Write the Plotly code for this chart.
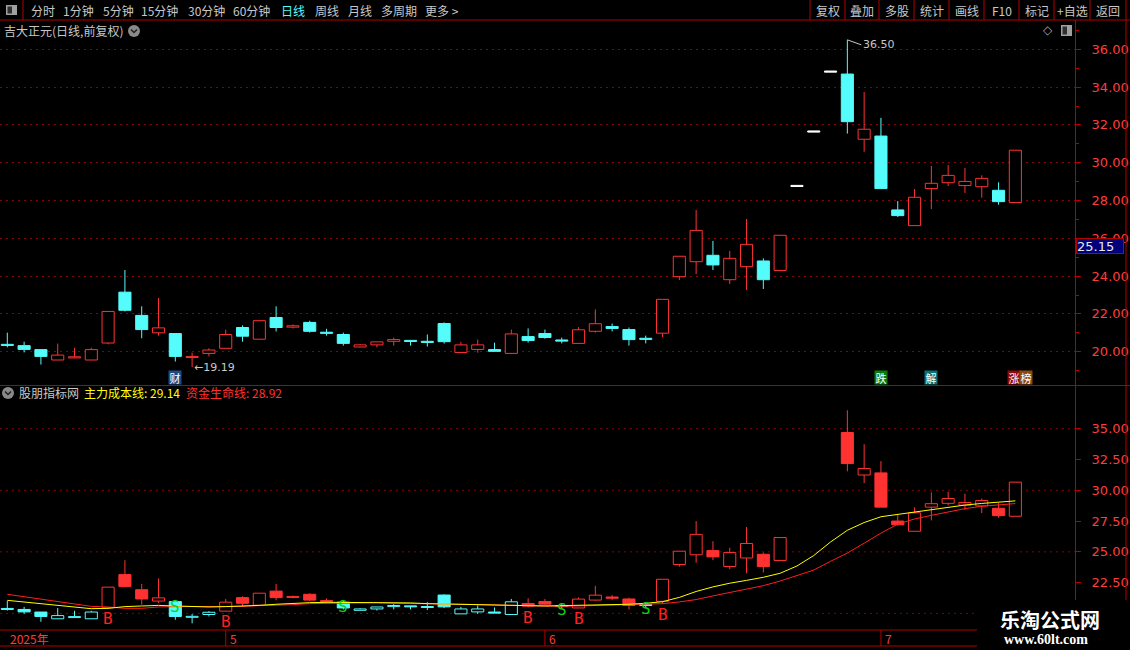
import plotly.graph_objects as go

# ---------------- data ----------------
opens = [20.37, 20.32, 20.11, 19.56, 19.67, 19.56, 20.46, 23.15, 21.92, 21.00,
         20.96, 19.71, 19.91, 20.18, 21.28, 20.66, 21.81, 21.30, 21.55, 21.01,
         20.91, 20.25, 20.36, 20.55, 20.58, 20.53, 21.49, 19.96, 20.12, 20.11,
         19.91, 20.80, 20.96, 20.60, 20.44, 21.08, 21.33, 21.17, 20.69, 20.98,
         23.97, 24.76, 25.10, 23.81, 24.50, 24.80, 24.30, 28.77, 31.65, 34.82,
         34.69, 31.24, 31.41, 27.50, 26.67, 28.63, 28.94, 28.79, 28.73, 28.54, 27.89]
highs = [21.01, 20.53, 20.11, 20.43, 20.21, 20.21, 22.13, 24.32, 22.40, 22.84,
         20.96, 19.95, 20.18, 21.17, 21.39, 21.64, 22.40, 21.44, 21.64, 21.21,
         21.01, 20.41, 20.52, 20.75, 20.58, 20.91, 21.55, 20.52, 20.64, 20.48,
         21.17, 21.23, 21.17, 20.75, 21.30, 22.24, 21.49, 21.28, 20.85, 22.77,
         25.05, 27.50, 25.86, 25.33, 27.02, 24.94, 26.16, 28.77, 31.65, 34.82,
         36.50, 33.74, 32.37, 27.97, 28.61, 29.83, 29.88, 29.72, 29.33, 28.96, 30.66]
lows = [20.23, 19.96, 19.32, 19.56, 19.66, 19.56, 20.39, 22.13, 20.71, 20.85,
        19.48, 19.19, 19.75, 20.18, 20.53, 20.66, 21.07, 21.23, 21.01, 20.85,
        20.32, 20.23, 20.23, 20.32, 20.32, 20.27, 20.43, 19.96, 19.95, 20.02,
        19.91, 20.48, 20.69, 20.44, 20.44, 21.01, 21.07, 20.32, 20.44, 20.77,
        23.79, 24.11, 24.32, 23.58, 23.26, 23.32, 24.30, 28.77, 31.65, 34.82,
        31.54, 30.58, 28.63, 27.13, 26.67, 27.55, 28.77, 28.40, 28.15, 27.78, 27.89]
closes = [20.35, 20.12, 19.75, 19.82, 19.73, 20.11, 22.13, 22.19, 21.17, 21.26,
          19.75, 19.73, 20.09, 20.91, 20.82, 21.64, 21.28, 21.37, 21.08, 20.99,
          20.44, 20.36, 20.52, 20.64, 20.56, 20.51, 20.53, 20.36, 20.36, 20.02,
          20.94, 20.59, 20.75, 20.58, 21.16, 21.48, 21.23, 20.64, 20.67, 22.77,
          25.05, 26.42, 24.59, 24.94, 25.68, 23.81, 26.16, 28.77, 31.65, 34.82,
          32.17, 31.77, 28.63, 27.20, 28.17, 28.91, 29.33, 29.01, 29.17, 27.94, 30.66]
limit_idx = [47, 48, 49]          # one-price limit-up days

cost_line = [21.06, 20.93, 20.79, 20.63, 20.49, 20.38, 20.41, 20.55, 20.60, 20.65,
             20.60, 20.55, 20.52, 20.55, 20.57, 20.65, 20.74, 20.82, 20.87, 20.90,
             20.90, 20.87, 20.85, 20.85, 20.85, 20.79, 20.76, 20.71, 20.68, 20.63,
             20.60, 20.60, 20.60, 20.63, 20.65, 20.68, 20.71, 20.74, 20.82, 20.95,
             21.30, 21.78, 22.15, 22.45, 22.68, 22.93, 23.26, 23.85, 24.70, 25.80,
             26.75, 27.38, 27.85, 28.05, 28.24, 28.45, 28.65, 28.80, 28.93, 29.04, 29.14]
life_line = [21.55, 21.36, 21.17, 20.95, 20.74, 20.57, 20.52, 20.41, 20.41, 20.52,
             20.55, 20.55, 20.55, 20.55, 20.57, 20.63, 20.65, 20.71, 20.79, 20.82,
             20.87, 20.87, 20.87, 20.82, 20.82, 20.79, 20.76, 20.74, 20.71, 20.65,
             20.63, 20.60, 20.57, 20.57, 20.60, 20.65, 20.68, 20.71, 20.74, 20.79,
             20.93, 21.12, 21.42, 21.70, 21.98, 22.25, 22.63, 23.05, 23.52, 24.23,
             24.90, 25.70, 26.52, 27.25, 27.67, 27.96, 28.23, 28.51, 28.70, 28.80, 28.92]
buy_idx = [6, 13, 31, 34, 39]
sell_idx = [10, 20, 33, 38]

top_ticks = [20, 22, 24, 26, 28, 30, 32, 34, 36]
bottom_ticks = [22.5, 25, 27.5, 30, 32.5, 35]
bottom_grid = [20, 25, 30, 35]
month_labels = ["2025年", "5", "6", "7"]
month_idx = [0, 13, 32, 52]
last_price_label = "25.15"
stock_title = "吉大正元(日线,前复权)"
indicator_name = "股朋指标网"
toolbar_left = ["分时", "1分钟", "5分钟", "15分钟", "30分钟", "60分钟", "日线", "周线", "月线", "多周期", "更多 >"]
toolbar_right = ["复权", "叠加", "多股", "统计", "画线", "F10", "标记", "+自选", "返回"]
event_tags = [("财", 10, 0, "#1f4a8a"), ("跌", 52, 0, "#0a7a0a"), ("解", 55, 0, "#0a7272"),
              ("涨", 60, -1, "#8c0a0a"), ("榜", 60, 11, "#8a4a12")]

N = len(opens)

# ---------------- geometry helpers ----------------
W, H = 1130, 650
ML, MR, MT, MB = 0, 55, 20, 20
PW, PH = W - ML - MR, H - MT - MB


def px(x):
    return (x - ML) / PW


def py(y):
    return (H - MB - y) / PH


RED = '#ff3232'
CYAN = '#54fcfc'
GRID = '#8c0000'
FRAME = '#b40000'
AXTXT = '#ff3c3c'
GRAY = '#c8c8c8'
CJK = 'Noto Sans CJK SC'

fig = go.Figure()


def candle_traces(idx, color, filled, yaxis, minh):
    if not idx:
        return
    xs, base, hgt, wx, wy = [], [], [], [], []
    for i in idx:
        o, c, h, l = opens[i], closes[i], highs[i], lows[i]
        lo, hi = min(o, c), max(o, c)
        if hi - lo < minh:
            mid = (hi + lo) / 2
            lo, hi = mid - minh / 2, mid + minh / 2
        xs.append(i)
        base.append(lo)
        hgt.append(hi - lo)
        if h > hi:
            wx += [i, i, None]
            wy += [h, hi, None]
        if l < lo:
            wx += [i, i, None]
            wy += [lo, l, None]
    fig.add_trace(go.Scatter(x=wx, y=wy, mode='lines', line=dict(color=color, width=1),
                             yaxis=yaxis, xaxis='x', hoverinfo='skip', showlegend=False))
    fig.add_trace(go.Bar(x=xs, y=hgt, base=base, width=0.72,
                         marker=dict(color=color if filled else '#000000', line=dict(color=color, width=1)),
                         yaxis=yaxis, xaxis='x', hoverinfo='skip', showlegend=False))


# top panel candles
normal = [i for i in range(N) if i not in limit_idx]
candle_traces([i for i in normal if closes[i] >= opens[i]], RED, False, 'y', 0.06)
candle_traces([i for i in normal if closes[i] < opens[i]], CYAN, True, 'y', 0.06)
candle_traces(limit_idx, '#ffffff', True, 'y', 0.06)

# bottom panel candles coloured by B/S state
state, s = [], False
for i in range(N):
    if i in buy_idx:
        s = True
    if i in sell_idx:
        s = False
    state.append(s)
for st, col in [(True, RED), (False, CYAN)]:
    candle_traces([i for i in normal if state[i] == st and closes[i] >= opens[i]], col, False, 'y2', 0.08)
    candle_traces([i for i in normal if state[i] == st and closes[i] < opens[i]], col, True, 'y2', 0.08)

fig.add_trace(go.Scatter(x=list(range(N)), y=life_line, mode='lines', line=dict(color='#ff1e1e', width=1),
                         yaxis='y2', xaxis='x', hoverinfo='skip', showlegend=False))
fig.add_trace(go.Scatter(x=list(range(N)), y=cost_line, mode='lines', line=dict(color='#ffff00', width=1),
                         yaxis='y2', xaxis='x', hoverinfo='skip', showlegend=False))

# ---------------- shapes ----------------
shapes = []


def hline(y, x0, x1, color=FRAME, layer='above', dash=None, yref='paper'):
    shapes.append(dict(type='line', xref='paper', yref=yref, x0=px(x0), x1=px(x1),
                       y0=y if yref != 'paper' else py(y), y1=y if yref != 'paper' else py(y),
                       line=dict(color=color, width=1, dash=dash) if dash else dict(color=color, width=1),
                       layer=layer))


def vline(x, y0, y1, color=FRAME):
    shapes.append(dict(type='line', xref='paper', yref='paper', x0=px(x), x1=px(x), y0=py(y0), y1=py(y1),
                       line=dict(color=color, width=1), layer='above'))


for g in bottom_grid:
    hline(g, 0, 1075, color=GRID, layer='below', dash='2px,4px', yref='y2')

hline(20, 0, 1130)
hline(385.5, 0, 1130)
hline(630, 0, 1126)
hline(646, 0, 1126)
vline(1126, 0, 650)
for xs_ in [23, 810, 845, 879, 914, 949, 984, 1019, 1054, 1090]:
    vline(xs_, 0, 20)
for mi in month_idx[1:]:
    shapes.append(dict(type='line', xref='x', yref='paper', x0=mi, x1=mi, y0=py(630), y1=py(646),
                       line=dict(color=FRAME, width=1), layer='above'))

# toolbar icon
shapes.append(dict(type='rect', xref='paper', yref='paper', x0=px(6), x1=px(17), y0=py(15), y1=py(5),
                   fillcolor='#a0a0a0', line=dict(width=0), layer='above'))
shapes.append(dict(type='rect', xref='paper', yref='paper', x0=px(7.5), x1=px(12), y0=py(13.5), y1=py(6.5),
                   fillcolor='#303030', line=dict(width=0), layer='above'))
# title icons
for cx, cy in [(134, 31), (8, 393)]:
    shapes.append(dict(type='circle', xref='paper', yref='paper', x0=px(cx - 6), x1=px(cx + 6),
                       y0=py(cy + 6), y1=py(cy - 6), fillcolor='#8a8a8a', line=dict(width=0), layer='above'))
    shapes.append(dict(type='path', xref='paper', yref='paper',
                       path=f"M {px(cx-3)} {py(cy-1.5)} L {px(cx)} {py(cy+1.5)} L {px(cx+3)} {py(cy-1.5)}",
                       line=dict(color='#202020', width=1.5), layer='above'))
shapes.append(dict(type='rect', xref='paper', yref='paper', x0=px(1061), x1=px(1072), y0=py(36), y1=py(25),
                   fillcolor='#a0a0a0', line=dict(width=0), layer='above'))
shapes.append(dict(type='rect', xref='paper', yref='paper', x0=px(1062.5), x1=px(1067), y0=py(34.5), y1=py(26.5),
                   fillcolor='#303030', line=dict(width=0), layer='above'))
# watermark backdrop
shapes.append(dict(type='rect', xref='paper', yref='paper', x0=px(977), x1=px(1131), y0=py(651), y1=py(600),
                   fillcolor='#000000', line=dict(width=0), layer='above'))

# ---------------- annotations ----------------
ann = []


def txt(text, x, y, color=GRAY, size=12, family=CJK, xanchor='left', **kw):
    ann.append(dict(text=text, x=px(x), y=py(y), xref='paper', yref='paper', xanchor=xanchor, yanchor='middle',
                    showarrow=False, font=dict(color=color, size=size, family=family), **kw))


tb_x = [28.6, 61, 100.7, 139, 186, 231, 278.6, 312.5, 345.7, 378.6, 423]
for t, x in zip(toolbar_left, tb_x):
    txt(t, x, 10.5, color=CYAN if t == "日线" else GRAY)
tr_x = [827.5, 862, 896.5, 931.5, 966.5, 1001.5, 1036.5, 1072, 1108]
for t, x in zip(toolbar_right, tr_x):
    txt(t, x, 10.5, xanchor='center')

txt(stock_title, 2, 30)
txt("◇", 1048, 30, color='#a0a0a0', size=12, family='DejaVu Sans', xanchor='center')
txt(indicator_name, 17, 393)
txt(f"主力成本线: {cost_line[-1]:.2f}", 82, 393, color='#ffff00')
txt(f"资金生命线: {life_line[-1]:.2f}", 184, 393, color=RED)

# last price box on axis
ann.append(dict(text=last_price_label, x=px(1076), y=py(246), xref='paper', yref='paper', xanchor='left',
                yanchor='middle', showarrow=False, align='left', width=46, height=14, borderpad=0,
                bgcolor='#00007a', bordercolor=FRAME, borderwidth=1,
                font=dict(color='#e6e6e6', size=13, family='DejaVu Sans')))

# high / low labels
ann.append(dict(text=f"←{lows[11]:.2f}", x=11, y=lows[11], xref='x', yref='y', xanchor='left', yanchor='middle',
                showarrow=False, font=dict(color=GRAY, size=11, family='DejaVu Sans')))
ann.append(dict(text=f"{highs[50]:.2f}", x=50, y=highs[50], xref='x', yref='y', xanchor='left', yanchor='middle',
                showarrow=True, ax=14, ay=5, arrowhead=0, arrowwidth=1, arrowcolor=GRAY, standoff=0,
                font=dict(color=GRAY, size=11, family='DejaVu Sans')))

# event tags
for t, i, sh, col in event_tags:
    ann.append(dict(text=t, x=i, y=py(377), xref='x', yref='paper', xanchor='center', yanchor='middle',
                    xshift=sh, showarrow=False, width=12, height=13, borderpad=0, bgcolor=col,
                    font=dict(color='#ffffff', size=11, family=CJK)))

# B / S signals
for i in buy_idx:
    ann.append(dict(text="B", x=i, y=lows[i] * 0.96, xref='x', yref='y2', xanchor='center', yanchor='middle',
                    showarrow=False, font=dict(color='#ff2020', size=16, family='DejaVu Sans Mono')))
for i in sell_idx:
    ann.append(dict(text="S", x=i, y=highs[i] * 0.98, xref='x', yref='y2', xanchor='center', yanchor='middle',
                    showarrow=False, font=dict(color='#10d010', size=16, family='DejaVu Sans Mono')))

# date axis
for lab, i in zip(month_labels, month_idx):
    ann.append(dict(text=lab, x=i, y=py(638.5), xref='x', yref='paper', xanchor='left', yanchor='middle',
                    xshift=1 if i == 0 else 2, showarrow=False,
                    font=dict(color=AXTXT, size=12, family=CJK)))

# watermark
txt("<b>乐淘公式网</b>", 1050, 619, color='#ffffff', size=20, xanchor='center')
txt("<b>www.60lt.com</b>", 1046, 639, color='#ffffff', size=14, family='Liberation Serif', xanchor='center')

axis_common = dict(side='right', anchor='x', ticks='outside', ticklen=5, tickcolor=FRAME, tickwidth=1,
                   showline=True, linecolor=FRAME, linewidth=1, zeroline=False, fixedrange=True,
                   tickfont=dict(family='DejaVu Sans', size=13, color=AXTXT), ticklabelstandoff=8)

fig.update_layout(
    width=W, height=H, autosize=False, margin=dict(l=ML, r=MR, t=MT, b=MB),
    paper_bgcolor='#000000', plot_bgcolor='#000000', showlegend=False, barmode='overlay', hovermode=False,
    xaxis=dict(range=[-0.435, 63.55], showgrid=False, zeroline=False, showticklabels=False, ticks='',
               showline=False, anchor='y2', fixedrange=True),
    yaxis=dict(domain=[py(385), 1], range=[18.238, 37.55], tickmode='array', tickvals=top_ticks,
               ticktext=[f"{v:.2f}" for v in top_ticks], showgrid=True, gridcolor=GRID, gridwidth=1,
               griddash='2px,4px',
               minor=dict(tickmode='linear', tick0=0, dtick=1, ticks='outside', ticklen=3, tickcolor=FRAME,
                          showgrid=False),
               **axis_common),
    yaxis2=dict(domain=[0, py(386)], range=[18.65, 38.47], tickmode='array', tickvals=bottom_ticks,
                ticktext=[f"{v:.2f}" for v in bottom_ticks], showgrid=False, **axis_common),
    shapes=shapes, annotations=ann,
)

fig.write_html("out.html", config={'displayModeBar': False},
               post_script="document.body.style.margin='0';document.body.style.padding='0';"
                           "document.body.style.background='#000';document.body.style.overflow='hidden';")
